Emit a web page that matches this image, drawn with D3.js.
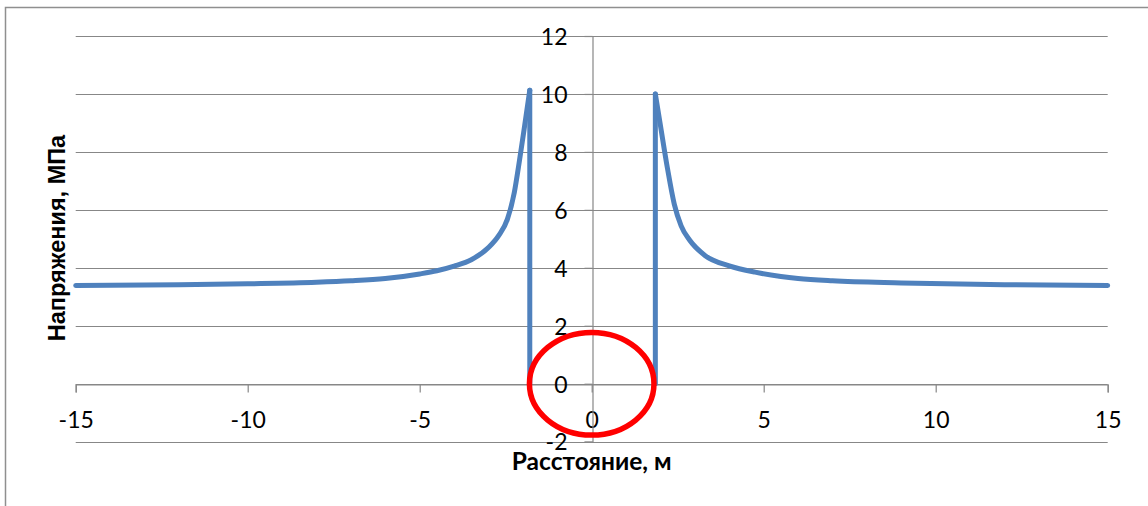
<!DOCTYPE html>
<html><head><meta charset="utf-8">
<script src="https://cdn.jsdelivr.net/npm/d3@7"></script>
<style>html,body{margin:0;padding:0;background:#fff;overflow:hidden}</style>
</head><body>
<svg id="chart" width="1148" height="506"></svg>
<script>
// ---- data ----
const leftX  = [-15, -12, -10, -8, -7, -6, -5, -4.5, -4, -3.5, -3, -2.7, -2.45, -2.25, -2.1, -1.95, -1.8, -1.8];
const leftY  = [3.39, 3.42, 3.45, 3.50, 3.55, 3.63, 3.79, 3.90, 4.06, 4.28, 4.70, 5.12, 5.68, 6.60, 7.70, 8.90, 10.13, 0];
const rightX = [1.85, 1.85, 2.0, 2.2, 2.4, 2.6, 2.85, 3.3, 4, 4.75, 5.5, 6, 7, 9, 12, 15];
const rightY = [0, 10.0, 8.9, 7.45, 6.2, 5.45, 4.95, 4.42, 4.07, 3.85, 3.70, 3.63, 3.55, 3.48, 3.42, 3.39];
const xTicks = [-15, -10, -5, 0, 5, 10, 15];
const yTicks = [-2, 0, 2, 4, 6, 8, 10, 12];
const xTitle = "Расстояние, м";
const yTitle = "Напряжения, МПа";
const markCenter = [0, 0];
const markRadii = [1.81, 1.77];

// ---- layout ----
const svg = d3.select("#chart");
const x = d3.scaleLinear().domain([-15, 15]).range([75.7, 1107.7]);
const y = d3.scaleLinear().domain([-2, 12]).range([441.7, 36]);
const grid = "#878787";
const tickFont = "Lato, 'Open Sans', sans-serif";
const fmt = d => String(d);

// outer frame (cropped at right/bottom)
svg.append("rect").attr("x", 5.5).attr("y", 7.5).attr("width", 1200).attr("height", 600)
  .attr("fill", "#fff").attr("stroke", "#8f8f8f").attr("stroke-width", 1.5);

// horizontal gridlines
svg.append("g").selectAll("line").data(yTicks).join("line")
  .attr("x1", x(-15)).attr("x2", x(15))
  .attr("y1", d => Math.round(y(d)) + 0.5).attr("y2", d => Math.round(y(d)) + 0.5)
  .attr("stroke", grid).attr("stroke-width", 1.2);

// x axis at y=0
const xAxis = svg.append("g").attr("transform", `translate(0,${Math.round(y(0)) + 0.5})`)
  .call(d3.axisBottom(x).tickValues(xTicks).tickSize(8).tickPadding(14).tickFormat(fmt));
xAxis.select(".domain").attr("stroke", grid).attr("stroke-width", 1.2);
xAxis.selectAll(".tick line").attr("stroke", grid).attr("stroke-width", 1.2);
xAxis.selectAll(".tick text").attr("font-family", tickFont).attr("font-size", 23).attr("fill", "#000")
  .attr("dy", "0.36em").attr("y", 35);

// y axis at x=0
const yAxis = svg.append("g").attr("transform", `translate(${Math.round(x(0)) + 0.5},0)`)
  .call(d3.axisLeft(y).tickValues(yTicks).tickSize(8).tickPadding(17).tickFormat(fmt));
yAxis.select(".domain").attr("stroke", grid).attr("stroke-width", 1.2);
yAxis.selectAll(".tick line").attr("stroke", grid).attr("stroke-width", 1.2);
yAxis.selectAll(".tick text").attr("font-family", tickFont).attr("font-size", 23).attr("fill", "#000")
  .attr("dy", "0.36em");

// series
const curve = d3.line().x(d => x(d[0])).y(d => y(d[1])).curve(d3.curveMonotoneX);
const straight = d3.line().x(d => x(d[0])).y(d => y(d[1]));
const leftPts = leftX.map((v, i) => [v, leftY[i]]);
const rightPts = rightX.map((v, i) => [v, rightY[i]]);
const blue = "#4f81bd";
const g = svg.append("g").attr("fill", "none").attr("stroke", blue).attr("stroke-width", 5)
  .attr("stroke-linejoin", "round").attr("stroke-linecap", "round");
g.append("path").attr("d", curve(leftPts.slice(0, -1)));
g.append("path").attr("d", straight(leftPts.slice(-2)));
g.append("path").attr("d", straight(rightPts.slice(0, 2)));
g.append("path").attr("d", curve(rightPts.slice(1)));

// axis titles
svg.append("text").attr("x", x(0)).attr("y", 470).attr("text-anchor", "middle")
  .attr("font-family", "Lato, sans-serif").attr("font-weight", "bold").attr("font-size", 24.5)
  .attr("fill", "#000").text(xTitle);
svg.append("text").attr("transform", `translate(65,238) rotate(-90)`).attr("text-anchor", "middle")
  .attr("font-family", "'Liberation Sans', Arial, sans-serif").attr("font-weight", "bold").attr("font-size", 23.5)
  .attr("fill", "#000").text(yTitle);

// red ellipse marker
svg.append("ellipse").attr("cx", x(markCenter[0])).attr("cy", y(markCenter[1]))
  .attr("rx", x(markRadii[0]) - x(0)).attr("ry", y(0) - y(markRadii[1]))
  .attr("fill", "none").attr("stroke", "#ff0000").attr("stroke-width", 5.5);
</script>
</body></html>
